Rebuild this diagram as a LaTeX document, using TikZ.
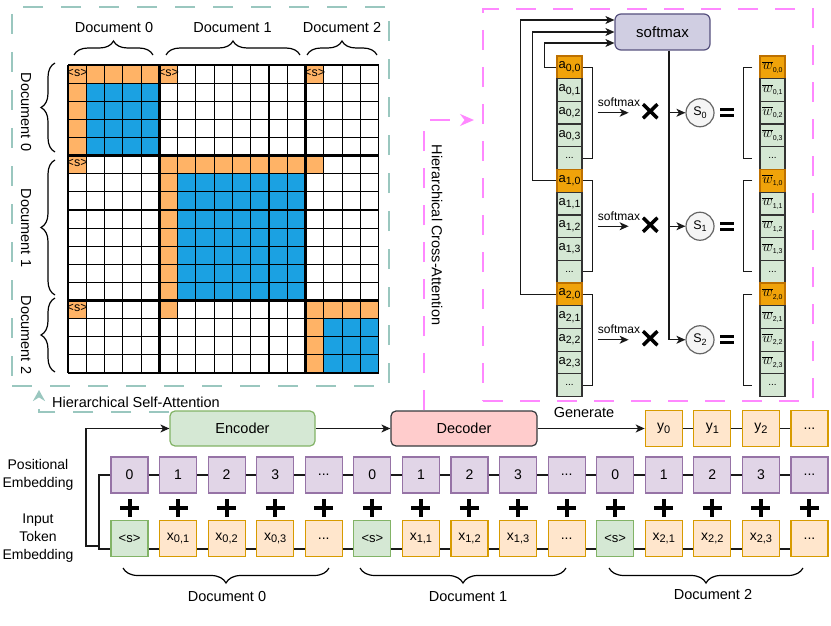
\documentclass[tikz,border=0pt]{standalone}
\usepackage{fontspec}
\setmainfont{Liberation Sans}
\usetikzlibrary{arrows.meta,decorations.pathreplacing,calc}
\definecolor{gridorange}{HTML}{FFB366}
\definecolor{gridblue}{HTML}{1BA1E2}
\definecolor{teald}{HTML}{9AC7BF}
\definecolor{pinkd}{HTML}{FF88FF}
\definecolor{aorange}{HTML}{F0A30A}
\definecolor{aorangeb}{HTML}{BD7000}
\definecolor{cgreen}{HTML}{D5E8D4}
\definecolor{cgreenb}{HTML}{82B366}
\definecolor{plum}{HTML}{E1D5E7}
\definecolor{plumb}{HTML}{9673A6}
\definecolor{peach}{HTML}{FFE6CC}
\definecolor{peachb}{HTML}{D79B00}
\definecolor{lav}{HTML}{D0CEE2}
\definecolor{lavb}{HTML}{56517E}
\definecolor{rosef}{HTML}{FFCCCC}
\definecolor{roseb}{HTML}{36393D}
\definecolor{circf}{HTML}{F5F5F5}
\definecolor{circb}{HTML}{666666}
\newcommand\lowsub[2]{\raisebox{-0.35ex}{\fontsize{#1}{#1}\selectfont #2}}
\newcommand\wbarlbl[1]{$\overline{w}$\lowsub{7}{#1}}
\def\gridX{68}\def\gridY{65}\def\cellW{18.27}\def\cellH{18.12}
\newcommand\gridblock[5]{\fill[#1] ({\gridX+#3*\cellW},{\gridY+#2*\cellH}) rectangle ({\gridX+(#5+1)*\cellW},{\gridY+(#4+1)*\cellH});}
\tikzset{
  conn/.style={line width=1.2pt, draw=black!90},
  arr/.style={conn, -{Stealth[length=9pt,width=8pt,inset=2.5pt]}},
  lbl/.style={font=\fontsize{14.5}{14.5}\selectfont, inner sep=0pt},
  smalllbl/.style={font=\fontsize{12}{12}\selectfont, inner sep=0pt},
  slbl/.style={font=\fontsize{12.5}{12.5}\selectfont, inner sep=0pt},
  embox/.style={line width=1.2pt, minimum width=37pt, minimum height=36pt, inner sep=0pt, font=\fontsize{14}{14}\selectfont},
  posbox/.style={embox, draw=plumb, fill=plum},
  tokbox/.style={embox, draw=peachb, fill=peach},
  sbox/.style={embox, draw=cgreenb, fill=cgreen, font=\fontsize{13}{13}\selectfont},
  acell/.style={draw=black!80, fill=cgreen, line width=1.2pt, minimum width=25pt, minimum height=22.7pt, inner sep=0pt, font=\fontsize{13}{13}\selectfont},
  aocell/.style={acell, draw=aorangeb, fill=aorange},
  scirc/.style={circle, draw=circb, fill=circf, line width=1.2pt, minimum size=28pt, inner sep=0pt, font=\fontsize{12.5}{12.5}\selectfont},
  mainbox/.style={rounded corners=5pt, line width=1.2pt, minimum width=145pt, minimum height=35pt, font=\fontsize{14.5}{14.5}\selectfont},
  tealdash/.style={draw=teald, line width=2pt, dash pattern=on 20pt off 18pt},
  pinkdash/.style={draw=pinkd, line width=2pt, dash pattern=on 20pt off 17pt},
  plusmark/.style={line width=4pt, draw=black},
  xmark/.style={line width=3.5pt, draw=black},
  eqmark/.style={line width=2.6pt, draw=black},
  bracestyle/.style={decorate, decoration={brace, amplitude=14pt}, line width=1.2pt},
  mbracestyle/.style={decorate, decoration={brace, mirror, amplitude=15pt}, line width=1.2pt},
}
\begin{document}
\begin{tikzpicture}[x=1pt,y=-1pt]
\useasboundingbox (0,0) rectangle (831,626);

% ---------- dashed frames ----------
\node[tealdash, minimum width=377pt, minimum height=379pt, inner sep=0pt] (sabox) at (200.5,196.5) {};
\node[pinkdash, minimum width=330pt, minimum height=392pt, inner sep=0pt] (cabox) at (648,205) {};

% ---------- attention grid ----------
\gridblock{gridblue}{1}{1}{4}{4}
\gridblock{gridblue}{6}{6}{12}{12}
\gridblock{gridblue}{14}{14}{16}{16}
\gridblock{gridorange}{0}{0}{0}{4}
\gridblock{gridorange}{1}{0}{4}{0}
\gridblock{gridorange}{5}{5}{5}{12}
\gridblock{gridorange}{6}{5}{12}{5}
\gridblock{gridorange}{13}{13}{13}{16}
\gridblock{gridorange}{14}{13}{16}{13}
\gridblock{gridorange}{0}{5}{0}{5}
\gridblock{gridorange}{0}{13}{0}{13}
\gridblock{gridorange}{5}{0}{5}{0}
\gridblock{gridorange}{5}{13}{5}{13}
\gridblock{gridorange}{13}{0}{13}{0}
\gridblock{gridorange}{13}{5}{13}{5}
\foreach \i in {0,...,17} {
  \draw[line width=1.1pt] ({\gridX+\i*\cellW},\gridY) -- ({\gridX+\i*\cellW},{\gridY+17*\cellH});
  \draw[line width=1.1pt] (\gridX,{\gridY+\i*\cellH}) -- ({\gridX+17*\cellW},{\gridY+\i*\cellH});
}
\foreach \i in {5,13} {
  \draw[line width=3pt] ({\gridX+\i*\cellW},\gridY) -- ({\gridX+\i*\cellW},{\gridY+17*\cellH});
  \draw[line width=3pt] (\gridX,{\gridY+\i*\cellH}) -- ({\gridX+17*\cellW},{\gridY+\i*\cellH});
}
\node[slbl] (sA) at ({\gridX+0.5*\cellW},{\gridY+7.5}) {<s>};
\node[slbl] (sB) at ({\gridX+5.5*\cellW},{\gridY+7.5}) {<s>};
\node[slbl] (sC) at ({\gridX+13.5*\cellW},{\gridY+7.5}) {<s>};
\node[slbl] (sD) at ({\gridX+0.5*\cellW},{\gridY+5*\cellH+7.5}) {<s>};
\node[slbl] (sE) at ({\gridX+0.5*\cellW},{\gridY+13*\cellH+7.5}) {<s>};

% grid braces and labels
\draw[bracestyle] (74,55) -- (153,55);
\draw[bracestyle] (166,55) -- (300,55);
\draw[bracestyle] (307,55) -- (377,55);
\node[lbl] (td0) at (114,28) {Document 0};
\node[lbl] (td1) at (232.5,28) {Document 1};
\node[lbl] (td2) at (342,28) {Document 2};
\draw[bracestyle] (55,152) -- (55,63);
\draw[bracestyle] (55,295) -- (55,160);
\draw[bracestyle] (55,372) -- (55,298);
\node[lbl, rotate=-90] (ld0) at (26,112) {Document 0};
\node[lbl, rotate=-90] (ld1) at (26,228) {Document 1};
\node[lbl, rotate=-90] (ld2) at (26,335) {Document 2};

% ---------- cross attention ----------
\node[draw=lavb, fill=lav, rounded corners=6pt, line width=1.2pt, minimum width=95pt, minimum height=36pt, font=\fontsize{15}{15}\selectfont] (sm) at (662.5,32) {softmax};
\foreach \g in {0,1,2} {
  \pgfmathsetmacro\yg{56+22.7*(5*\g+2.5)}
  \node[aocell] (a\g0) at (569.5,{56+22.7*(5*\g+0.5)}) {a\lowsub{10.5}{\g,0}};
  \foreach \k in {1,2,3} {
    \node[acell] (a\g\k) at (569.5,{56+22.7*(5*\g+\k+0.5)}) {a\lowsub{10.5}{\g,\k}};
  }
  \node[acell, font=\fontsize{10}{10}\selectfont] (a\g4) at (569.5,{56+22.7*(5*\g+4.5)}) {...};
  \node[aocell, font=\fontsize{14}{14}\selectfont] (w\g0) at (772.5,{56+22.7*(5*\g+0.5)}) {\wbarlbl{\g,0}};
  \foreach \k in {1,2,3} {
    \node[acell, font=\fontsize{14}{14}\selectfont] (w\g\k) at (772.5,{56+22.7*(5*\g+\k+0.5)}) {\wbarlbl{\g,\k}};
  }
  \node[acell, font=\fontsize{10}{10}\selectfont] (w\g4) at (772.5,{56+22.7*(5*\g+4.5)}) {...};
  \draw[conn] (a\g0.east) -- ++(10,0) |- (a\g4.east);
  \draw[conn] ([xshift=-7pt]w\g0.west) -- ++(-9,0) |- ([xshift=-7pt]w\g4.west);
  \draw[arr] ([xshift=15pt]a\g2.east) -- ++(31,0);
  \node[smalllbl] (sml\g) at (619,{\yg-10.5}) {softmax};
  \draw[xmark] (643,{\yg-8.5}) -- (657.5,{\yg+5.5}) (643,{\yg+5.5}) -- (657.5,{\yg-8.5});
  \node[scirc] (s\g) at (700,\yg) {S\lowsub{9}{\g}};
  \draw[eqmark] (720,{\yg-3}) -- (734,{\yg-3}) (720,{\yg+3}) -- (734,{\yg+3});
}
\draw[arr] (a00.west) -- ++(-12,0) |- ([yshift=-11pt]sm.west);
\draw[arr] (a10.west) -- ++(-24,0) |- (sm.west);
\draw[arr] (a20.west) -- ++(-36,0) |- ([yshift=12pt]sm.west);
\coordinate (vl) at ([xshift=6.5pt]sm.south);
\draw[arr] (vl) |- (s2.west);
\draw[arr] (vl |- s0.west) -- (s0.west);
\draw[arr] (vl |- s1.west) -- (s1.west);

% ---------- encoder / decoder ----------
\node[mainbox, draw=cgreenb, fill=cgreen] (enc) at (242.5,428.5) {Encoder};
\node[mainbox, draw=roseb, fill=rosef, minimum width=146pt] (dec) at (464,428.5) {Decoder};
\draw[arr] (enc) -- (dec);
\node[tokbox] (yb0) at (663.77,428.5) {y\lowsub{11}{0}};
\node[tokbox] (yb1) at (712.34,428.5) {y\lowsub{11}{1}};
\node[tokbox] (yb2) at (760.91,428.5) {y\lowsub{11}{2}};
\node[tokbox] (yb3) at (809.48,428.5) {...};
\draw[arr] (dec.east) -- (yb0.west);
\draw[conn] (yb0.east) -- (yb1.west);
\draw[conn] (yb1.east) -- (yb2.west);
\draw[conn] (yb2.east) -- (yb3.west);
\node[lbl] (gen) at (584,413) {Generate};

% ---------- embeddings ----------
\foreach \i/\n in {0/0,1/1,2/2,3/3,5/0,6/1,7/2,8/3,10/0,11/1,12/2,13/3}
  \node[posbox] (p\i) at ({129.5+48.57*\i},475) {\n};
\foreach \i in {4,9,14}
  \node[posbox] (p\i) at ({129.5+48.57*\i},475) {...};
\foreach \i in {0,5,10}
  \node[sbox] (t\i) at ({129.5+48.57*\i},538.5) {<s>};
\foreach \i/\d/\k in {1/0/1,2/0/2,3/0/3,6/1/1,7/1/2,8/1/3,11/2/1,12/2/2,13/2/3}
  \node[tokbox] (t\i) at ({129.5+48.57*\i},538.5) {x\lowsub{11}{\d,\k}};
\foreach \i in {4,9,14}
  \node[tokbox] (t\i) at ({129.5+48.57*\i},538.5) {...};
\foreach \i [count=\j from 1] in {0,...,13} {
  \draw[conn] (p\i.east) -- (p\j.west);
  \draw[conn] ([yshift=-10.5pt]t\i.east) -- ([yshift=-10.5pt]t\j.west);
}
\foreach \i in {0,...,14}
  \draw[plusmark] ({129.5+48.57*\i-9.5},508) -- ++(19,0) ({129.5+48.57*\i},499) -- ++(0,18);
\coordinate (pstart) at (99,475);
\coordinate (istart) at (99,549);
\coordinate (efeed) at (99,546);
\draw[conn] (p0.west) -- (pstart) -- (istart) -- ([yshift=-10.5pt]t0.west);
\draw[arr] (efeed) -- ++(-13,0) |- (enc.west);

\node[lbl, align=center, font=\fontsize{14}{18}\selectfont] (poslbl) at (38,474.5) {Positional\\Embedding};
\node[lbl, align=center, font=\fontsize{14}{18}\selectfont] (toklbl) at (38,538) {Input\\Token\\Embedding};

\draw[mbracestyle] (123,568) -- (329,568);
\draw[mbracestyle] (360,568) -- (566,568);
\draw[mbracestyle] (609,568) -- (803,568);
\node[lbl] (bd0) at (227,597) {Document 0};
\node[lbl] (bd1) at (468,597) {Document 1};
\node[lbl] (bd2) at (713,595) {Document 2};

% ---------- hierarchical connectors ----------
\draw[tealdash, -{Stealth[length=11pt,width=12pt]}, shorten >=3pt] ([yshift=-2pt]enc.north west) -| ([xshift=28pt]sabox.south west);
\node[lbl, anchor=west] (hsa) at (52,402) {Hierarchical Self-Attention};
\draw[pinkdash, -{Stealth[length=14pt,width=12pt]}, shorten >=8pt] ([xshift=34pt]dec.north west) |- ([yshift=85pt]cabox.west);
\node[lbl, rotate=-90] (hca) at (437,235) {Hierarchical Cross-Attention};
\end{tikzpicture}
\end{document}
